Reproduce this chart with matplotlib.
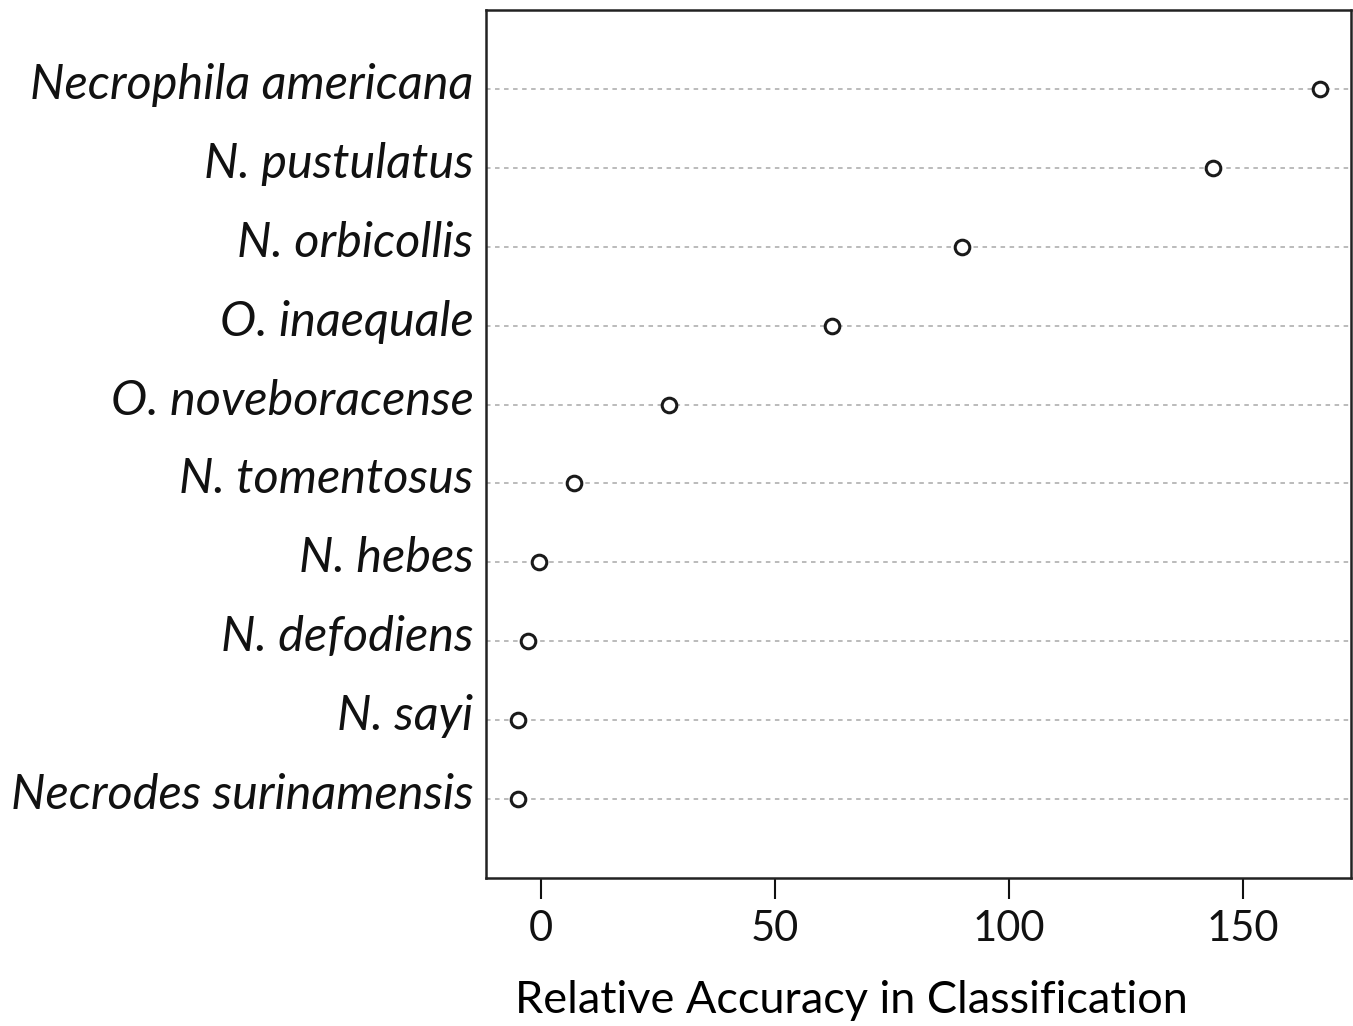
import matplotlib
matplotlib.use("Agg")
import matplotlib.pyplot as plt
from matplotlib.transforms import ScaledTranslation

species = [
    "Necrodes surinamensis",
    "N. sayi",
    "N. defodiens",
    "N. hebes",
    "N. tomentosus",
    "O. noveboracense",
    "O. inaequale",
    "N. orbicollis",
    "N. pustulatus",
    "Necrophila americana",
]
accuracy = [-4.9, -4.9, -2.8, -0.4, 7.0, 27.4, 62.2, 90.0, 143.6, 166.5]
xticks = [0, 50, 100, 150]

plt.rcParams["font.family"] = ["Lato", "DejaVu Sans"]

fig = plt.figure(figsize=(13.53, 10.26), dpi=100)
ax = fig.add_axes([0.3592, 0.1442, 0.6393, 0.8461])

ypos = list(range(1, len(species) + 1))
for y in ypos:
    ax.axhline(y, color="#b5b5b5", linestyle=(0, (2.5, 2.5)), linewidth=1.3, zorder=1)
ax.plot(accuracy, ypos, linestyle="none", marker="o", markersize=10.5,
        markerfacecolor="white", markeredgecolor="#1a1a1a", markeredgewidth=2.2, zorder=3)

ax.set_xlim(-11.75, 173.1)
ax.set_ylim(0, len(species) + 1)
ax.set_xticks(xticks)
ax.set_xticklabels([str(t) for t in xticks], fontsize=30)
ax.set_yticks(ypos)
ax.set_yticklabels(species, fontsize=35, style="italic", va="center_baseline")
ax.tick_params(axis="x", length=15, width=1.5, pad=8, colors="#111111")
ax.tick_params(axis="y", length=0, pad=9, colors="#111111")
# labels sit a little above their guide lines
shift = ScaledTranslation(0, 8 / 100, fig.dpi_scale_trans)
for lab in ax.get_yticklabels():
    lab.set_transform(lab.get_transform() + shift)
for s in ax.spines.values():
    s.set_linewidth(1.8)
    s.set_color("#222222")

ax.set_xlabel("Relative Accuracy in Classification", fontsize=32.5)
ax.xaxis.set_label_coords(0.423, -0.118)

fig.savefig("out.png", dpi=100)
